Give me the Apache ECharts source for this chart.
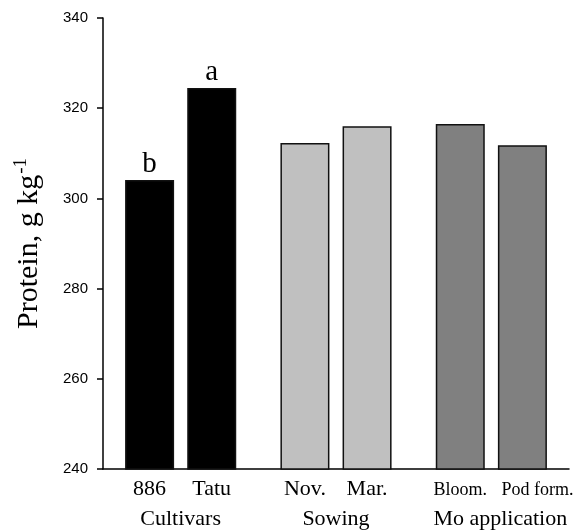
<!DOCTYPE html>
<html>
<head>
<meta charset="utf-8">
<script src="https://cdn.jsdelivr.net/npm/echarts@6/dist/echarts.min.js"></script>
<style>
  html, body { margin: 0; padding: 0; background: #fff; }
  #chart { width: 582px; height: 531px; }
</style>
</head>
<body>
<div id="chart"></div>
<script>
// Protein content by factor level
const groupNames = ['Cultivars', 'Sowing', 'Mo application'];
const categories = ['886', 'Tatu', 'Nov.', 'Mar.', 'Bloom.', 'Pod form.'];
const categoryGroup = [0, 0, 1, 1, 2, 2];
const protein = [304.1, 324.5, 312.3, 316.0, 316.5, 311.8];
const letters = ['b', 'a', '', '', '', ''];
const yTicks = [240, 260, 280, 300, 320, 340];

// styling
const groupColors = ['#000000', '#c0c0c0', '#808080'];
const serif = 'Liberation Serif, Times New Roman, serif';
const sans = 'Liberation Sans, Arial, sans-serif';
// extra left padding (px) nudging a few labels to the right
const labelNudge = { 'Bloom.': 0, 'Pod form.': 30, 'Mo application': 18 };

// Lay out each group as: spacer, bar, spacer, bar, spacer
const slots = [];
const groupSlots = [];
const barData = [];
let padCount = 0;
groupNames.forEach((g, gi) => {
  const start = slots.length;
  slots.push('_' + (padCount++));
  barData.push('-');
  categories.forEach((c, ci) => {
    if (categoryGroup[ci] !== gi) return;
    slots.push(c);
    barData.push({
      value: protein[ci],
      itemStyle: { color: groupColors[gi] },
      label: { show: letters[ci] !== '', formatter: letters[ci] }
    });
    slots.push('_' + (padCount++));
    barData.push('-');
  });
  const mid = start + Math.floor((slots.length - start) / 2);
  groupSlots.push(mid);
});
const groupAxisData = slots.map((s, i) => {
  const gi = groupSlots.indexOf(i);
  return gi >= 0 ? groupNames[gi] : '_g' + i;
});

const chart = echarts.init(document.getElementById('chart'), null, { renderer: 'canvas' });
chart.setOption({
  backgroundColor: '#ffffff',
  animation: false,
  grid: { left: 103, right: 13, top: 18, bottom: 62, containLabel: false },
  xAxis: [
    {
      type: 'category',
      data: slots,
      position: 'bottom',
      axisLine: { show: true, lineStyle: { color: '#000', width: 1.5 } },
      axisTick: { show: false },
      axisLabel: {
        interval: 0,
        margin: 9,
        color: '#000',
        fontFamily: serif,
        fontSize: 22,
        formatter: v => {
          if (v.charAt(0) === '_') return '';
          if (v === 'Bloom.') return '{s|' + v + '}';
          if (v === 'Pod form.') return '{p|' + v + '}';
          return v;
        },
        rich: {
          s: { fontFamily: serif, fontSize: 18, color: '#000', padding: [3, 0, 0, labelNudge['Bloom.']] },
          p: { fontFamily: serif, fontSize: 18, color: '#000', padding: [3, 0, 0, labelNudge['Pod form.']] }
        }
      },
      splitLine: { show: false }
    },
    {
      type: 'category',
      data: groupAxisData,
      position: 'bottom',
      offset: 30,
      axisLine: { show: false },
      axisTick: { show: false },
      axisLabel: {
        interval: 0,
        margin: 9,
        color: '#000',
        fontFamily: serif,
        fontSize: 22,
        formatter: v => {
          if (v.charAt(0) === '_') return '';
          if (v === 'Mo application') return '{m|' + v + '}';
          return v;
        },
        rich: {
          m: { fontFamily: serif, fontSize: 22, color: '#000', padding: [0, 0, 0, labelNudge['Mo application']] }
        }
      },
      splitLine: { show: false }
    }
  ],
  yAxis: {
    type: 'value',
    min: yTicks[0],
    max: yTicks[yTicks.length - 1],
    interval: yTicks[1] - yTicks[0],
    name: '{t|Protein, g kg}{sup|-1}',
    nameLocation: 'middle',
    nameGap: 56,
    nameTextStyle: {
      rich: {
        t: { fontFamily: serif, fontSize: 30, color: '#000' },
        sup: { fontFamily: serif, fontSize: 19, color: '#000', padding: [0, 0, 16, 1] }
      }
    },
    axisLine: { show: true, lineStyle: { color: '#000', width: 1.5 } },
    axisTick: { show: true, inside: false, length: 6, lineStyle: { color: '#000', width: 1.5 } },
    axisLabel: { margin: 15, color: '#000', fontFamily: sans, fontSize: 15 },
    splitLine: { show: false }
  },
  series: [{
    type: 'bar',
    xAxisIndex: 0,
    data: barData,
    barWidth: 49,
    itemStyle: { borderColor: '#111', borderWidth: 1.5 },
    label: {
      show: false,
      position: 'top',
      distance: 1,
      color: '#000',
      fontFamily: serif,
      fontSize: 29
    }
  }]
});
</script>
</body>
</html>
